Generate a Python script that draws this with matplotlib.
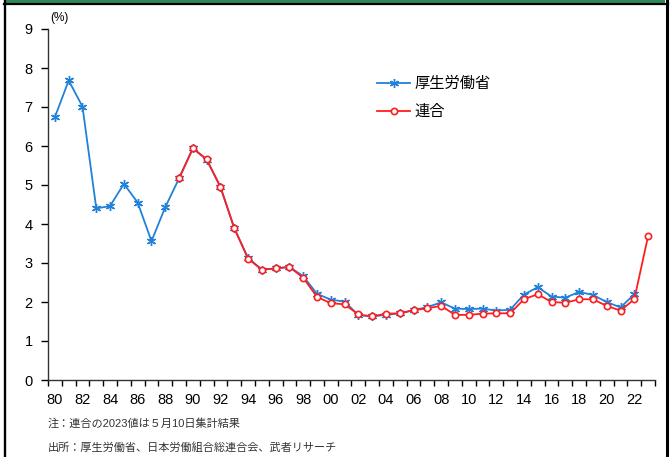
import numpy as np
import matplotlib
matplotlib.use("Agg")
import matplotlib.pyplot as plt
from matplotlib.patches import Rectangle
from matplotlib.lines import Line2D
from matplotlib.ticker import FixedLocator

plt.rcParams['font.family'] = ['Liberation Sans', 'Noto Sans CJK JP', 'DejaVu Sans']

# data (annual wage increase rate, %)
mhlw_years = list(range(1980, 2023))
mhlw_vals = [6.74, 7.68, 7.01, 4.40, 4.46, 5.03, 4.55, 3.56, 4.43, 5.17,
             5.94, 5.65, 4.95, 3.89, 3.13, 2.83, 2.86, 2.90, 2.66, 2.21,
             2.06, 2.01, 1.66, 1.63, 1.67, 1.71, 1.79, 1.87, 1.99, 1.83,
             1.82, 1.83, 1.78, 1.80, 2.19, 2.38, 2.14, 2.11, 2.26, 2.18,
             2.00, 1.86, 2.20]
rengo_years = list(range(1989, 2024))
rengo_vals = [5.17, 5.94, 5.66, 4.95, 3.90, 3.11, 2.83, 2.86, 2.90, 2.62,
              2.13, 1.97, 1.94, 1.68, 1.63, 1.70, 1.71, 1.79, 1.84, 1.90,
              1.67, 1.67, 1.70, 1.71, 1.71, 2.07, 2.20, 2.00, 1.98, 2.07,
              2.07, 1.90, 1.78, 2.07, 3.69]
label_years = list(range(1980, 2023, 2))
tick_labels = ["%02d" % (y % 100) for y in label_years]

W, H = 672, 457
fig = plt.figure(figsize=(W / 100, H / 100), dpi=100, facecolor="white")

def fx(px):
    return px / W

def fy(py):
    return 1 - py / H

ax = fig.add_axes([fx(48), fy(380), fx(655) - fx(48), fy(29) - fy(380)])

ax.plot(mhlw_years, mhlw_vals, color="#2181D8", lw=1.3,
        marker=(6, 2, 0), ms=6.5, mew=1.0, label="厚生労働省", zorder=3)
ax.plot(rengo_years, rengo_vals, color="#FF1E1E", lw=1.3,
        marker="o", ms=4.5, mfc="white", mec="#FF1E1E", mew=1.2,
        label="連合", zorder=4)

ax.set_xlim(1979.5, 2023.5)
ax.set_ylim(0, 9)
ax.set_yticks(range(0, 10))
ax.set_xticks(label_years)
ax.set_xticklabels(tick_labels)
ax.xaxis.set_minor_locator(FixedLocator(np.arange(1979.5, 2024.0, 1.0)))
ax.tick_params(axis="x", which="major", length=0, pad=9, labelsize=10.5)
ax.tick_params(axis="x", which="minor", length=4, direction="out", width=1)
ax.tick_params(axis="y", length=5, direction="out", width=1, pad=6, labelsize=10.5)

for s in ("top", "right"):
    ax.spines[s].set_visible(False)
for s in ("left", "bottom"):
    ax.spines[s].set_linewidth(1.0)
    ax.spines[s].set_color("#333333")

ax.legend(loc="upper left", bbox_to_anchor=(fx(363), fy(63)),
          bbox_transform=fig.transFigure, frameon=False, fontsize=11,
          handlelength=2.2, labelspacing=0.9, handletextpad=0.3)

fig.text(fx(50), fy(18), "(%)", fontsize=8.5, ha="left", va="center")

fig.text(fx(48), fy(423), "注：連合の2023値は５月10日集計結果", fontsize=8,
         ha="left", va="center", color="#333333")
fig.text(fx(48), fy(447), "出所：厚生労働省、日本労働組合総連合会、武者リサーチ",
         fontsize=8, ha="left", va="center", color="#333333")

# frame around the chart
fig.add_artist(Rectangle((fx(6), fy(3)), fx(665) - fx(6), fy(0) - fy(3),
                         transform=fig.transFigure, color="#2E8B57", lw=0))
fig.add_artist(Line2D([fx(4), fx(668)], [fy(4), fy(4)],
                      transform=fig.transFigure, color="black", lw=1.6))
fig.add_artist(Line2D([fx(5.2), fx(5.2)], [fy(0), fy(H)],
                      transform=fig.transFigure, color="black", lw=1.7))
fig.add_artist(Line2D([fx(666.5), fx(666.5)], [fy(0), fy(H)],
                      transform=fig.transFigure, color="black", lw=2.2))

fig.savefig("out.png", dpi=100)
